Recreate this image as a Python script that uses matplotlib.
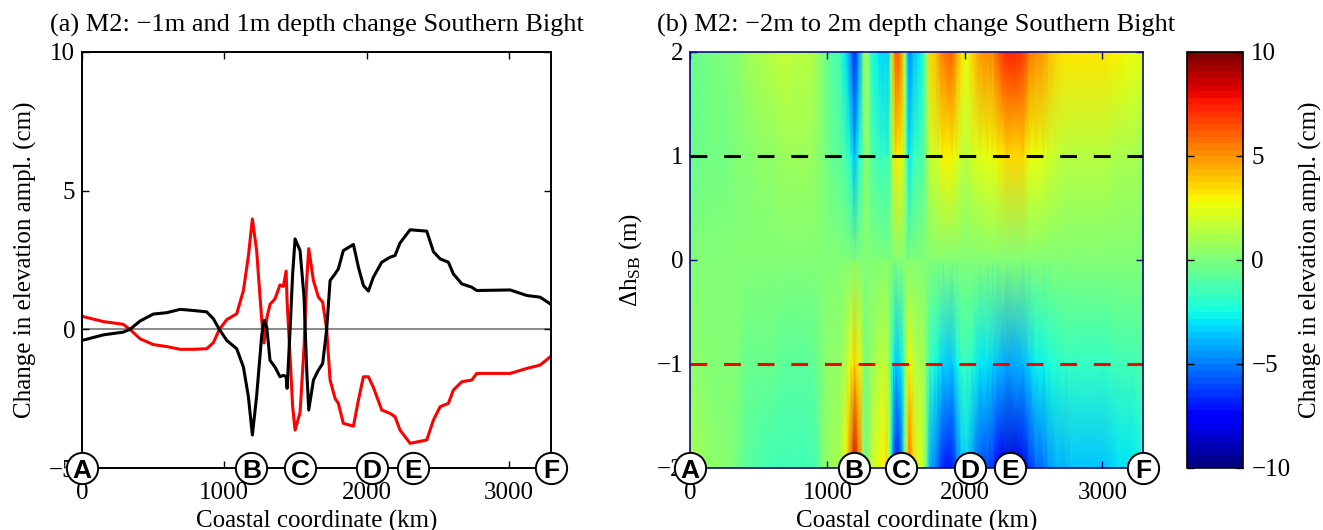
import numpy as np
import matplotlib
matplotlib.use('Agg')
import matplotlib.pyplot as plt

plt.rcParams['font.family'] = ['Liberation Serif', 'DejaVu Serif']
plt.rcParams['mathtext.fontset'] = 'custom'
plt.rcParams['mathtext.rm'] = 'Liberation Serif'
plt.rcParams['mathtext.it'] = 'Liberation Serif:italic'
plt.rcParams['axes.unicode_minus'] = True

# ---------------- data ----------------
coast_km = [0, 150, 290, 337, 408, 501, 595, 689, 782, 876, 923, 965, 1017, 1087,
            1134, 1169, 1197, 1227, 1263, 1279, 1298, 1321, 1356, 1391, 1415, 1434,
            1441, 1462, 1480, 1497, 1532, 1560, 1579, 1593, 1626, 1661, 1691, 1719,
            1743, 1778, 1801, 1836, 1907, 1942, 1977, 2012, 2047, 2106, 2164, 2199,
            2234, 2305, 2422, 2469, 2516, 2574, 2609, 2668, 2738, 2773, 3008, 3125,
            3218, 3295]

# change in elevation amplitude (cm) for +1 m depth change (black line)
amp_plus1 = [-0.40, -0.20, -0.10, 0.00, 0.30, 0.55, 0.60, 0.72, 0.68, 0.63, 0.38, 0.00,
             -0.40, -0.70, -1.36, -2.43, -3.81, -2.40, -0.20, 0.32, 0.08, -1.12, -1.36,
             -1.71, -1.66, -1.70, -2.13, 0.00, 2.00, 3.26, 2.84, 1.16, -1.50, -2.91,
             -1.83, -1.47, -1.23, 0.00, 1.76, 2.00, 2.18, 2.84, 3.06, 2.24, 1.58, 1.38,
             1.88, 2.42, 2.60, 2.66, 3.11, 3.59, 3.54, 2.80, 2.54, 2.42, 2.00, 1.64,
             1.52, 1.40, 1.42, 1.22, 1.16, 0.90]

# change in elevation amplitude (cm) for -1 m depth change (red line)
amp_minus1 = [0.47, 0.28, 0.18, 0.00, -0.34, -0.55, -0.62, -0.72, -0.72, -0.70, -0.48,
              0.00, 0.35, 0.56, 1.40, 2.64, 3.98, 2.84, 0.32, -0.49, 0.40, 0.90, 1.10,
              1.60, 1.55, 2.10, 1.00, -1.00, -2.80, -3.63, -3.00, -0.64, 1.80, 2.91,
              1.76, 1.16, 0.98, 0.00, -1.83, -2.49, -2.67, -3.39, -3.49, -2.55, -1.71,
              -1.71, -2.09, -2.91, -3.03, -3.15, -3.63, -4.11, -3.99, -3.27, -2.79,
              -2.67, -2.19, -1.89, -1.83, -1.59, -1.59, -1.41, -1.29, -0.97]

amp_plus2 = [-0.6, -0.3, 0.0, 0.2, 0.7, 1.2, 1.4, 1.6, 1.5, 1.3, 0.8, 0.0, -0.8, -1.5,
             -3.0, -5.0, -6.8, -4.5, -0.3, 1.2, 0.5, -2.2, -2.8, -3.4, -3.3, -3.2, -3.5,
             0.5, 4.5, 6.3, 5.5, 2.0, -3.0, -5.0, -3.6, -3.0, -2.4, 0.4, 3.5, 4.0, 4.4,
             5.6, 6.0, 4.5, 3.2, 2.8, 3.7, 4.8, 5.2, 5.3, 6.2, 7.2, 7.0, 5.6, 5.1, 4.8,
             4.2, 3.6, 3.4, 3.3, 3.3, 3.0, 2.8, 2.2]
amp_minus2 = [1.0, 0.6, 0.2, -0.2, -0.7, -1.2, -1.4, -1.5, -1.5, -1.4, -1.0, 0.0, 0.7,
              1.2, 3.0, 5.8, 9.0, 6.0, 0.8, -0.8, 0.4, 1.8, 2.2, 3.0, 3.0, 4.0, 2.5,
              -2.0, -5.5, -7.3, -6.2, -1.5, 3.5, 6.0, 3.6, 2.4, 2.0, -0.5, -3.8, -5.0,
              -5.4, -6.8, -7.0, -5.2, -3.6, -3.4, -4.2, -5.8, -6.1, -6.3, -7.3, -8.3,
              -8.0, -6.5, -5.6, -5.3, -4.6, -4.0, -3.8, -3.5, -3.5, -3.1, -2.9, -2.2]
amp_zero = [0.0] * len(coast_km)

dh_levels = [-2, -1, 0, 1, 2]

label_names = ['A', 'B', 'C', 'D', 'E', 'F']
label_km = [0, 1190, 1535, 2035, 2325, 3295]

x_ticks = [0, 1000, 2000, 3000]

# ---------------- figure ----------------
W, H = 1323, 530
fig = plt.figure(figsize=(W / 100, H / 100), dpi=100)
bottom = 1 - 468 / H
height = 416 / H
ax1 = fig.add_axes([82 / W, bottom, (551 - 82) / W, height])
ax2 = fig.add_axes([690 / W, bottom, (1143 - 690) / W, height])
cax = fig.add_axes([1187 / W, bottom, 56 / W, height])

FS = 18
FT = 19


def add_labels(ax, ymin):
    for name, pos in zip(label_names, label_km):
        ax.plot(pos, ymin, marker='o', ms=22.5, mfc='white', mec='black', mew=1.4,
                clip_on=False, zorder=10)
        ax.text(pos, ymin, name, ha='center', va='center_baseline', fontsize=19,
                fontweight='bold', family='Liberation Sans', zorder=11, clip_on=False)


def style_ticks(ax, color='black'):
    ax.tick_params(direction='in', top=True, right=True, length=5, width=1,
                   color=color, labelsize=FS)
    ax.tick_params(axis='x', pad=10)
    ax.tick_params(axis='y', pad=5)


# panel (a)
ax1.axhline(0, color='#808080', lw=1.3, zorder=1)
ax1.plot(coast_km, amp_plus1, color='black', lw=2.2, zorder=3)
ax1.plot(coast_km, amp_minus1, color='red', lw=2.2, zorder=2)
ax1.set_xlim(0, 3295)
ax1.set_ylim(-5, 10)
ax1.set_xticks(x_ticks)
ax1.set_yticks([-5, 0, 5, 10])
style_ticks(ax1)
for s in ax1.spines.values():
    s.set_linewidth(1.4)
ax1.set_xlabel('Coastal coordinate (km)', fontsize=FS, labelpad=4)
ax1.set_ylabel('Change in elevation ampl. (cm)', fontsize=FS, labelpad=8)
ax1.set_title('(a) M2: \u22121m and 1m depth change Southern Bight', fontsize=FT, pad=15)
add_labels(ax1, -5)

# panel (b)
cmap = plt.get_cmap('jet', 64)
C = np.array([amp_minus2, amp_minus1, amp_zero, amp_plus1, amp_plus2])
X, Y = np.meshgrid(coast_km, dh_levels)
mesh = ax2.pcolormesh(X, Y, C, cmap=cmap, vmin=-10, vmax=10, shading='gouraud')
ax2.axhline(1, color='black', lw=2.2, linestyle=(0, (5.5, 5.5)))
ax2.axhline(-1, color='red', lw=2.2, linestyle=(0, (5.5, 5.5)))
ax2.set_xlim(0, 3295)
ax2.set_ylim(-2, 2)
ax2.set_xticks(x_ticks)
ax2.set_yticks([-2, -1, 0, 1, 2])
navy = '#0a0a80'
style_ticks(ax2, navy)
for s in ax2.spines.values():
    s.set_color(navy)
    s.set_linewidth(1.2)
ax2.set_xlabel('Coastal coordinate (km)', fontsize=FS, labelpad=4)
ax2.set_ylabel(r'$\Delta\mathrm{h}_{\mathrm{SB}}$ (m)', fontsize=FS, labelpad=9)
ax2.set_title('(b) M2: \u22122m to 2m depth change Southern Bight', fontsize=FT, pad=15)
add_labels(ax2, -2)

# colorbar
cb = fig.colorbar(mesh, cax=cax)
cb.set_ticks([-10, -5, 0, 5, 10])
cax.tick_params(direction='in', left=True, right=True, length=5, width=1,
                labelsize=FS, pad=6)
cb.outline.set_linewidth(1.2)
cb.set_label('Change in elevation ampl. (cm)', fontsize=FS, labelpad=6)

fig.savefig('out.png', dpi=100)
